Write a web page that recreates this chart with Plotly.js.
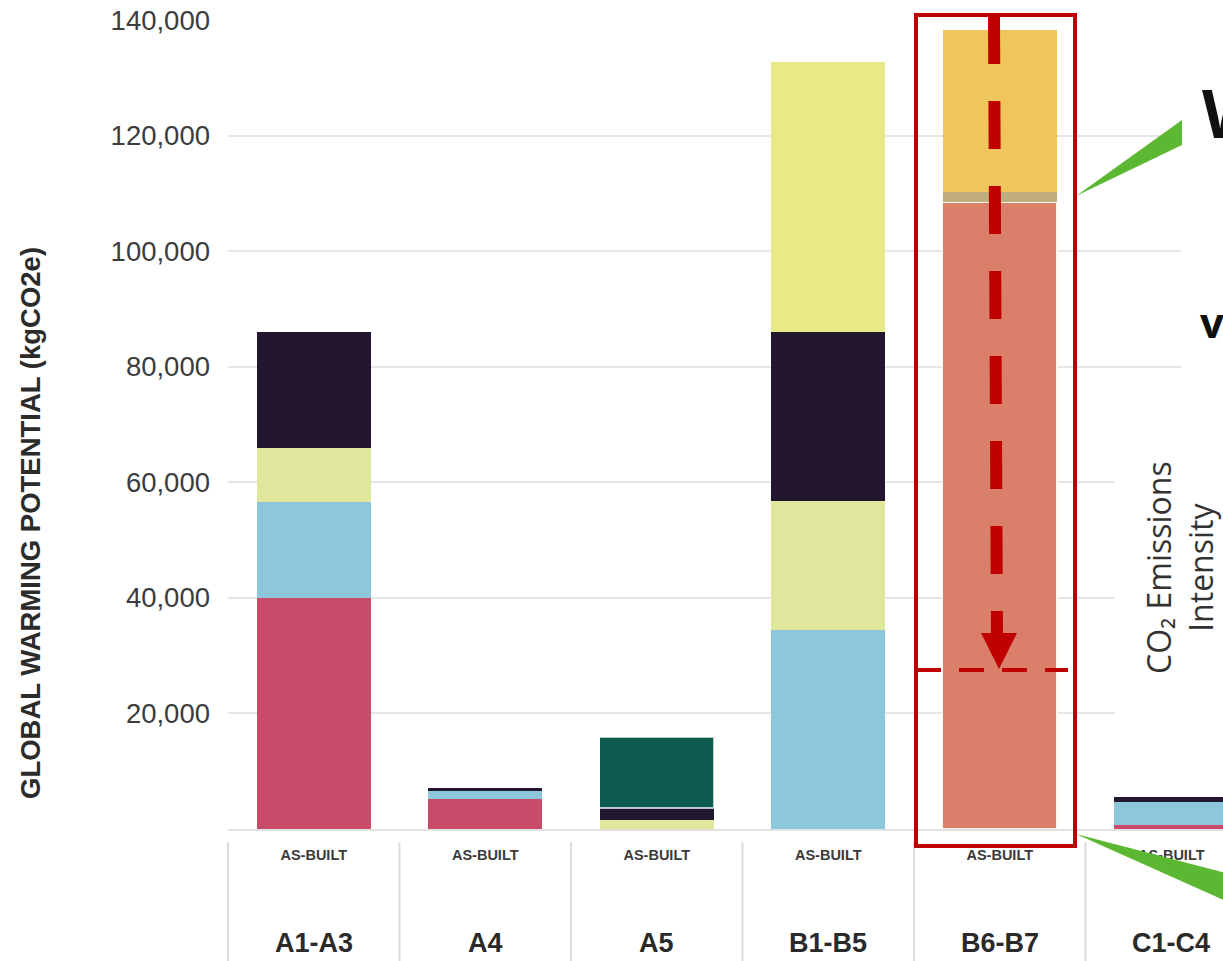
<!DOCTYPE html>
<html>
<head>
<meta charset="utf-8">
<script src="https://cdn.plot.ly/plotly-3.0.1.min.js"></script>
<style>
html,body{margin:0;padding:0;background:#fff;overflow:hidden;}
#chart{width:1223px;height:961px;}
</style>
</head>
<body>
<div id="chart"></div>
<script>
// ---------------- DATA (kgCO2e) ----------------
const categories = ['A1-A3', 'A4', 'A5', 'B1-B5', 'B6-B7', 'C1-C4'];
const stageLabel = 'AS-BUILT';
const crimson   = [39970, 5190, null, null, null, 690];
const lightBlue = [16610, 1380, null, 34430, null, 3980];
const paleGreen = [9340, null, 1560, 22320, null, null];
const navy      = [20070, 520, 2080, 29240, null, 870];
const teal      = [null, null, 12290, null, null, null];
const yellow    = [null, null, null, 46720, null, null];
const salmon    = [null, null, null, null, 108500, null];
const band      = [null, null, null, null, 1700, null];
const orange    = [null, null, null, null, 28000, null];
const yTicks    = [20000, 40000, 60000, 80000, 100000, 120000, 140000];
const targetLine = 27500;

// ---------------- LAYOUT GEOMETRY ----------------
const L = 228, T = 20, W = 995, H = 809;
const px = x => (x - L) / W;
const py = y => (T + H - y) / H;
const xr = [-0.5, -0.5 + W / 171.5];
const catPaper = v => (v - xr[0]) / (xr[1] - xr[0]);

const series = [
  {name: 'Series 1', y: crimson,   color: '#c84b69'},
  {name: 'Series 2', y: lightBlue, color: '#8ec6dc'},
  {name: 'Series 3', y: paleGreen, color: '#dfe79c'},
  {name: 'Series 4', y: navy,      color: '#22172e'},
  {name: 'Series 5', y: teal,      color: '#0f5b4f', line: 'rgba(255,255,255,0.7)'},
  {name: 'Series 6', y: yellow,    color: '#e8ea88'},
  {name: 'Series 7', y: salmon,    color: '#da806a', line: '#fff6ee'},
  {name: 'Series 8', y: band,      color: '#c2ad7c'},
  {name: 'Series 9', y: orange,    color: '#f0c65c'}
];

const traces = series.map(s => ({
  type: 'bar', name: s.name, x: categories, y: s.y,
  marker: {color: s.color, line: {width: s.line ? 1.5 : 0, color: s.line || s.color}},
  hoverinfo: 'skip'
}));

const shapes = [];
// dividers below the axis
for (let i = 0; i <= categories.length; i++) {
  shapes.push({type: 'line', xref: 'paper', yref: 'paper',
    x0: catPaper(i - 0.5), x1: catPaper(i - 0.5), y0: py(842), y1: py(961),
    line: {color: '#dcdcdc', width: 2}, layer: 'below'});
}
// white overlay panels (right side inset)
shapes.push({type: 'rect', xref: 'paper', yref: 'paper', x0: px(1181), x1: px(1230), y0: py(28), y1: py(420),
  fillcolor: '#ffffff', line: {width: 0}, layer: 'above'});
shapes.push({type: 'rect', xref: 'paper', yref: 'paper', x0: px(1115), x1: px(1230), y0: py(400), y1: py(790),
  fillcolor: '#ffffff', line: {width: 0}, layer: 'above'});
// green callout wedges
shapes.push({type: 'path', xref: 'paper', yref: 'paper',
  path: `M ${px(1076)} ${py(196)} L ${px(1182)} ${py(120)} L ${px(1182)} ${py(145)} Z`,
  fillcolor: '#5cb832', line: {width: 0}, layer: 'above'});
shapes.push({type: 'path', xref: 'paper', yref: 'paper',
  path: `M ${px(1076)} ${py(834)} L ${px(1226)} ${py(873)} L ${px(1226)} ${py(901)} Z`,
  fillcolor: '#5cb832', line: {width: 0}, layer: 'above'});
// red highlight box
shapes.push({type: 'rect', xref: 'paper', yref: 'paper', x0: px(916), x1: px(1075), y0: py(15), y1: py(846),
  line: {color: '#c00000', width: 4}, fillcolor: 'rgba(0,0,0,0)', layer: 'above'});
// red dashed arrow
shapes.push({type: 'line', xref: 'paper', yref: 'paper', x0: px(994), x1: px(997), y0: py(16), y1: py(640),
  line: {color: '#c00000', width: 12, dash: '48px,37px'}, layer: 'above'});
shapes.push({type: 'path', xref: 'paper', yref: 'paper',
  path: `M ${px(981)} ${py(633)} L ${px(1017)} ${py(633)} L ${px(999)} ${py(669)} Z`,
  fillcolor: '#c00000', line: {width: 0}, layer: 'above'});
// red dashed target line
shapes.push({type: 'line', xref: 'paper', yref: 'y', x0: px(916), x1: px(1068), y0: targetLine, y1: targetLine,
  line: {color: '#c00000', width: 4, dash: '25px,18px'}, layer: 'above'});

const annotations = categories.map(c => ({
  xref: 'x', yref: 'paper', x: c, y: py(943), xanchor: 'center', yanchor: 'middle',
  text: c, showarrow: false,
  font: {family: '"Liberation Sans", Arial, sans-serif', size: 27, weight: 700, color: '#2a2a2a'}
}));
annotations.push({
  xref: 'paper', yref: 'paper', x: px(30), y: py(523), xanchor: 'center', yanchor: 'middle',
  textangle: -90, showarrow: false, text: 'GLOBAL WARMING POTENTIAL (kgCO2e)',
  font: {family: '"Liberation Sans", Arial, sans-serif', size: 27.5, weight: 700, color: '#2b2b2b'}
});
annotations.push({
  xref: 'paper', yref: 'paper', x: px(1179), y: py(568), xanchor: 'center', yanchor: 'middle',
  textangle: -90, showarrow: false, text: 'CO₂ Emissions<br>Intensity',
  font: {family: '"Open Sans", "Noto Sans", sans-serif', size: 32, color: '#333333'}
});
annotations.push({
  xref: 'paper', yref: 'paper', x: px(1200), y: py(112), xanchor: 'left', yanchor: 'middle',
  showarrow: false, text: 'W',
  font: {family: '"Open Sans", "Noto Sans", sans-serif', size: 66, weight: 700, color: '#111111'}
});
annotations.push({
  xref: 'paper', yref: 'paper', x: px(1198), y: py(322), xanchor: 'left', yanchor: 'middle',
  showarrow: false, text: 'v',
  font: {family: '"Open Sans", "Noto Sans", sans-serif', size: 42, weight: 700, color: '#111111'}
});

const layout = {
  width: 1223, height: 961,
  margin: {l: L, r: 1223 - L - W, t: T, b: 961 - T - H, pad: 0},
  paper_bgcolor: '#ffffff', plot_bgcolor: '#ffffff',
  barmode: 'stack', bargap: 0.335, showlegend: false,
  xaxis: {
    range: xr, tickvals: categories, ticktext: categories.map(() => stageLabel),
    ticks: '', showgrid: false, zeroline: false,
    showline: true, linecolor: '#e2e2e2', linewidth: 2,
    ticklabelstandoff: 12,
    tickfont: {family: '"Liberation Sans", Arial, sans-serif', size: 14.5, weight: 700, color: '#3a3a3a'}
  },
  yaxis: {
    range: [0, 140000], tickvals: yTicks, tickformat: ',d',
    ticks: '', showgrid: true, gridcolor: '#e6e6e6', gridwidth: 2,
    zeroline: false, showline: false, ticklabelstandoff: 17,
    tickfont: {family: '"Liberation Sans", Arial, sans-serif', size: 27.5, color: '#3c3c3c'}
  },
  shapes: shapes,
  annotations: annotations
};

Plotly.newPlot('chart', traces, layout, {displayModeBar: false, staticPlot: true});
</script>
</body>
</html>
